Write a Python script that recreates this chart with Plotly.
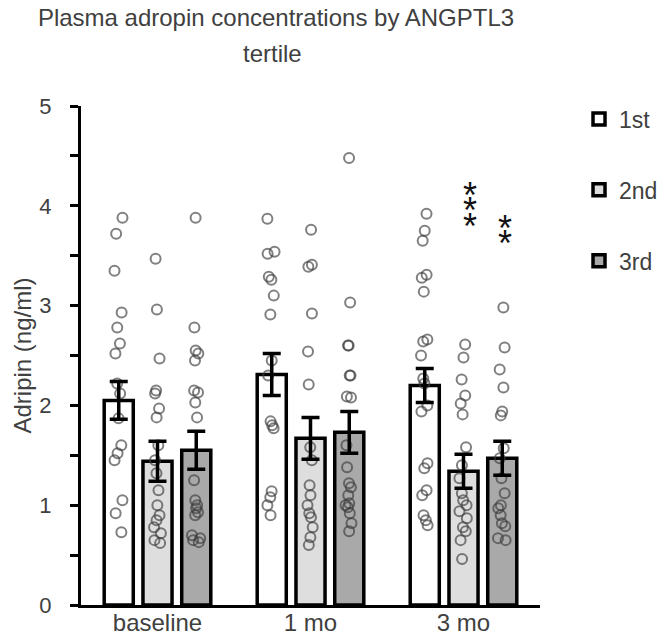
import plotly.graph_objects as go

# ---------------- data ----------------
categories = ["baseline", "1 mo", "3 mo"]
tertiles = ["1st", "2nd", "3rd"]

mean_1st = [2.05, 2.31, 2.20]
mean_2nd = [1.44, 1.67, 1.34]
mean_3rd = [1.55, 1.73, 1.47]

sem_1st = [0.19, 0.21, 0.17]
sem_2nd = [0.20, 0.21, 0.17]
sem_3rd = [0.19, 0.21, 0.17]

# individual values (ng/ml), per tertile and time point
pts_1st_baseline = [3.88, 3.72, 3.35, 2.93, 2.78, 2.62, 2.52, 2.22, 2.12, 1.87, 1.60, 1.52, 1.45, 1.05, 0.92, 0.73]
pts_1st_1mo = [3.87, 3.54, 3.52, 3.29, 3.26, 3.10, 2.91, 2.45, 2.30, 1.84, 1.80, 1.77, 1.14, 1.08, 1.00, 0.90]
pts_1st_3mo = [3.92, 3.75, 3.65, 3.31, 3.28, 3.14, 2.66, 2.64, 2.50, 2.27, 2.22, 2.00, 1.94, 1.42, 1.37, 1.15, 1.10, 0.90, 0.85, 0.80]

pts_2nd_baseline = [3.47, 2.96, 2.47, 2.15, 2.12, 1.97, 1.88, 1.60, 1.45, 1.32, 1.15, 1.00, 0.90, 0.85, 0.78, 0.72, 0.65, 0.62]
pts_2nd_1mo = [3.76, 3.41, 3.39, 2.92, 2.54, 2.21, 1.58, 1.45, 1.20, 1.10, 1.00, 0.92, 0.88, 0.78, 0.68, 0.60]
pts_2nd_3mo = [2.61, 2.48, 2.26, 2.10, 2.02, 1.91, 1.58, 1.40, 1.27, 1.12, 1.05, 1.00, 0.94, 0.87, 0.78, 0.74, 0.65, 0.46]

pts_3rd_baseline = [3.88, 2.78, 2.55, 2.52, 2.45, 2.15, 2.13, 2.03, 1.88, 1.25, 1.05, 1.00, 0.97, 0.93, 0.90, 0.70, 0.67, 0.65, 0.63]
pts_3rd_1mo = [4.48, 3.03, 2.60, 2.60, 2.30, 2.30, 2.09, 2.08, 1.60, 1.38, 1.22, 1.18, 1.10, 1.02, 1.00, 0.98, 0.92, 0.82, 0.74]
pts_3rd_3mo = [2.98, 2.58, 2.36, 2.18, 1.94, 1.90, 1.57, 1.47, 1.27, 1.12, 1.00, 0.97, 0.90, 0.82, 0.79, 0.67, 0.65]

# significance marks (3 mo vs baseline)
sig_1st = ["", "", ""]
sig_2nd = ["", "", "***"]
sig_3rd = ["", "", "**"]

# ---------------- styling ----------------
fills = ["#ffffff", "#dedede", "#a9a9a9"]
text_color = "#404040"
font_family = "Liberation Sans, Arial, Helvetica, sans-serif"
bargap = 0.24
slot = (1 - bargap) / 3

means = [mean_1st, mean_2nd, mean_3rd]
sems = [sem_1st, sem_2nd, sem_3rd]
points = [
    [pts_1st_baseline, pts_1st_1mo, pts_1st_3mo],
    [pts_2nd_baseline, pts_2nd_1mo, pts_2nd_3mo],
    [pts_3rd_baseline, pts_3rd_1mo, pts_3rd_3mo],
]
sigs = [sig_1st, sig_2nd, sig_3rd]
# top of each asterisk stack (y units), label placement only
sig_top = {3: 4.10, 2: 3.77}
sig_dx = {1: 0.045, 2: 0.02}

xidx = list(range(len(categories)))

fig = go.Figure()

# bars
for j, name in enumerate(tertiles):
    fig.add_trace(go.Bar(
        x=xidx, y=means[j], name=name,
        marker=dict(color=fills[j], line=dict(color="black", width=3.5)),
        legendgroup=name, hoverinfo="skip",
    ))

# individual points (box traces with hidden boxes, points jittered by plotly)
for j, name in enumerate(tertiles):
    xs, ys = [], []
    for i in xidx:
        pos = i + (j - 1) * slot
        xs += [pos] * len(points[j][i])
        ys += points[j][i]
    fig.add_trace(go.Box(
        x=xs, y=ys, boxpoints="all", jitter=0.35, pointpos=0, width=0.19,
        fillcolor="rgba(0,0,0,0)", line=dict(width=0, color="rgba(0,0,0,0)"),
        marker=dict(symbol="circle-open", size=10, color="rgba(60,60,60,0.65)",
                    line=dict(width=2)),
        showlegend=False, hoverinfo="skip",
    ))

# error bars on top
for j, name in enumerate(tertiles):
    fig.add_trace(go.Scatter(
        x=[i + (j - 1) * slot for i in xidx], y=means[j], mode="markers",
        marker=dict(size=1, opacity=0),
        error_y=dict(type="data", array=sems[j], color="black", thickness=3.5, width=9),
        showlegend=False, hoverinfo="skip",
    ))

# asterisks
annotations = []
for j in range(3):
    for i in xidx:
        s = sigs[j][i]
        if not s:
            continue
        top = sig_top[len(s)]
        for k in range(len(s)):
            annotations.append(dict(
                x=i + (j - 1) * slot + sig_dx[j], y=top - k * 0.152,
                text="*", showarrow=False, xref="x", yref="y",
                font=dict(size=36, color="#111111", family=font_family),
                yanchor="middle", xanchor="center", yshift=0,
            ))

# second title line
annotations.append(dict(
    x=0.4176, y=1.105, xref="paper", yref="paper", text="tertile",
    showarrow=False, xanchor="center", yanchor="middle",
    font=dict(size=24, color=text_color, family=font_family),
))

fig.update_layout(
    width=667, height=637,
    margin=dict(l=73, r=127, t=98, b=40),
    paper_bgcolor="white", plot_bgcolor="white",
    barmode="group", bargap=bargap, bargroupgap=0.25,
    boxmode="overlay",
    font=dict(family=font_family, color=text_color, size=18),
    title=dict(
        text="Plasma adropin concentrations by ANGPTL3",
        x=0.4018, xanchor="center", y=0.998, yanchor="top",
        font=dict(size=24, color=text_color),
    ),
    showlegend=True,
    legend=dict(x=1.085, xanchor="left", y=1.017, yanchor="top",
                tracegroupgap=38, font=dict(size=23, color=text_color),
                bgcolor="rgba(0,0,0,0)"),
    annotations=annotations,
)

fig.update_xaxes(
    range=[-0.5, 2.5], tickmode="array", tickvals=xidx, ticktext=categories,
    showline=True, linecolor="black", linewidth=3, ticks="", showgrid=False,
    zeroline=False, tickfont=dict(size=24, color=text_color),
    ticklabelstandoff=-6, automargin=False,
)
fig.update_yaxes(
    range=[0, 5], dtick=1, showline=True, linecolor="black", linewidth=3,
    ticks="outside", ticklen=8, tickwidth=2.5, tickcolor="black",
    minor=dict(dtick=0.5, ticks="outside", ticklen=8, tickwidth=2.5, tickcolor="black"),
    showgrid=False, zeroline=False, automargin=False,
    title=dict(text="Adripin (ng/ml)", font=dict(size=24, color=text_color), standoff=1),
    tickfont=dict(size=22, color=text_color), ticklabelstandoff=14,
)

fig.write_html("out.html")
